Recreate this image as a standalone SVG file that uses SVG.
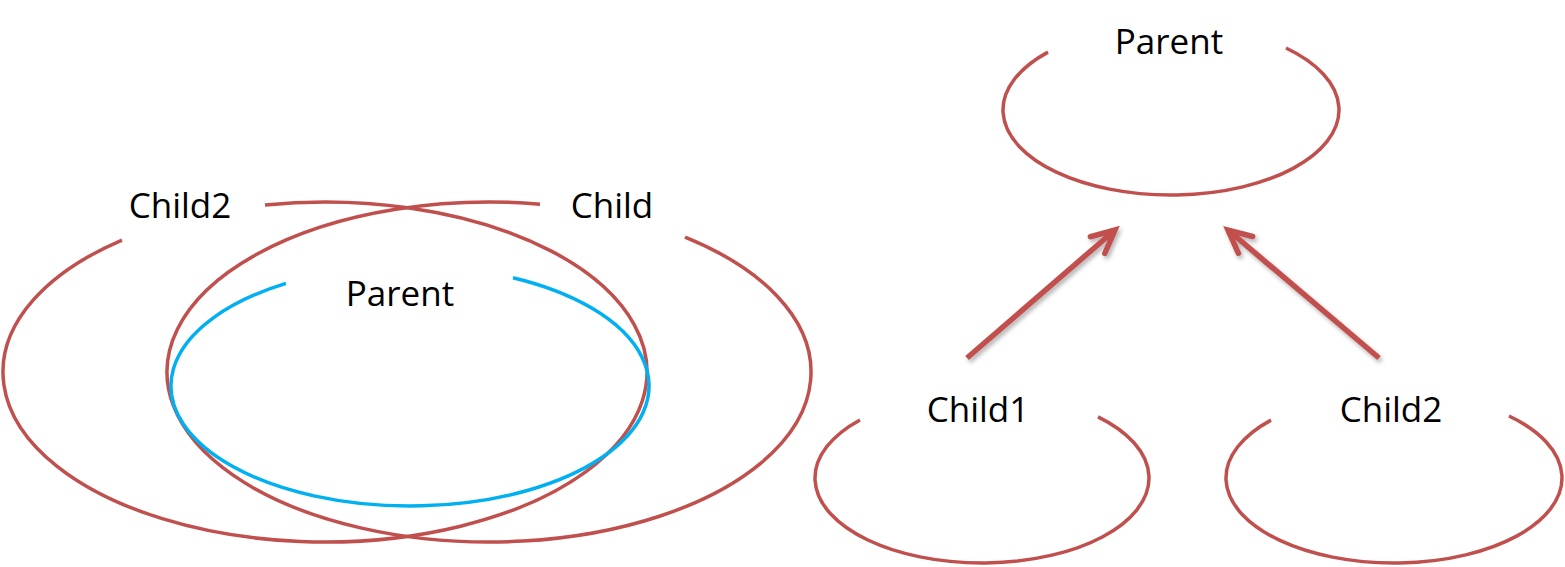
<svg xmlns="http://www.w3.org/2000/svg" width="1565" height="567" viewBox="0 0 1565 567">
  <style>
    .red { fill: none; stroke: #C0504D; stroke-width: 3.5; }
    .blue { fill: none; stroke: #00B0F0; stroke-width: 3.5; }
    .lbl { font-family: "Open Sans", "Noto Sans", "Liberation Sans", sans-serif; font-size: 35px; fill: #000; text-anchor: middle; }
    .arrow { fill: none; stroke: #C0504D; stroke-width: 5.5; filter: url(#shadow); }
  </style>
  <defs>
    <filter id="shadow" x="-20%" y="-20%" width="140%" height="140%">
      <feDropShadow dx="2" dy="3" stdDeviation="2" flood-color="#000" flood-opacity="0.3"/>
    </filter>
    <marker id="head" markerUnits="userSpaceOnUse" markerWidth="40" markerHeight="40" viewBox="-30 -20 40 40" refX="0" refY="0" orient="auto" overflow="visible">
      <path d="M-23,-11 L0,0 L-23,11" fill="none" stroke="#C0504D" stroke-width="5.5" stroke-linecap="round" stroke-linejoin="miter"/>
    </marker>
  </defs>
  <rect width="1565" height="567" fill="#fff"/>

  <g id="venn-child2">
    <path class="red" d="M265,204.98 A322,170 0 1 1 122,240.04"/>
    <text class="lbl" x="180" y="218">Child2</text>
  </g>
  <g id="venn-child">
    <path class="red" d="M685,237.12 A322,170 0 1 1 540,204.15"/>
    <text class="lbl" x="612" y="218">Child</text>
  </g>
  <g id="venn-parent">
    <path class="blue" d="M513,277.72 A239,120 0 1 1 286,283.41"/>
    <text class="lbl" x="400" y="306">Parent</text>
  </g>

  <g id="tree-parent">
    <path class="red" d="M1286,48.04 A168,85 0 1 1 1048,52.10"/>
    <text class="lbl" x="1169" y="54">Parent</text>
  </g>
  <g id="tree-child1">
    <path class="red" d="M1098,416.85 A167,85 0 1 1 860,419.96"/>
    <text class="lbl" x="978" y="422">Child1</text>
  </g>
  <g id="tree-child2">
    <path class="red" d="M1509,416.04 A168,85 0 1 1 1271,420.10"/>
    <text class="lbl" x="1391" y="422">Child2</text>
  </g>

  <g id="connectors">
    <line class="arrow" x1="967" y1="358" x2="1115" y2="230" marker-end="url(#head)"/>
    <line class="arrow" x1="1379" y1="358" x2="1228" y2="230" marker-end="url(#head)"/>
  </g>
</svg>
